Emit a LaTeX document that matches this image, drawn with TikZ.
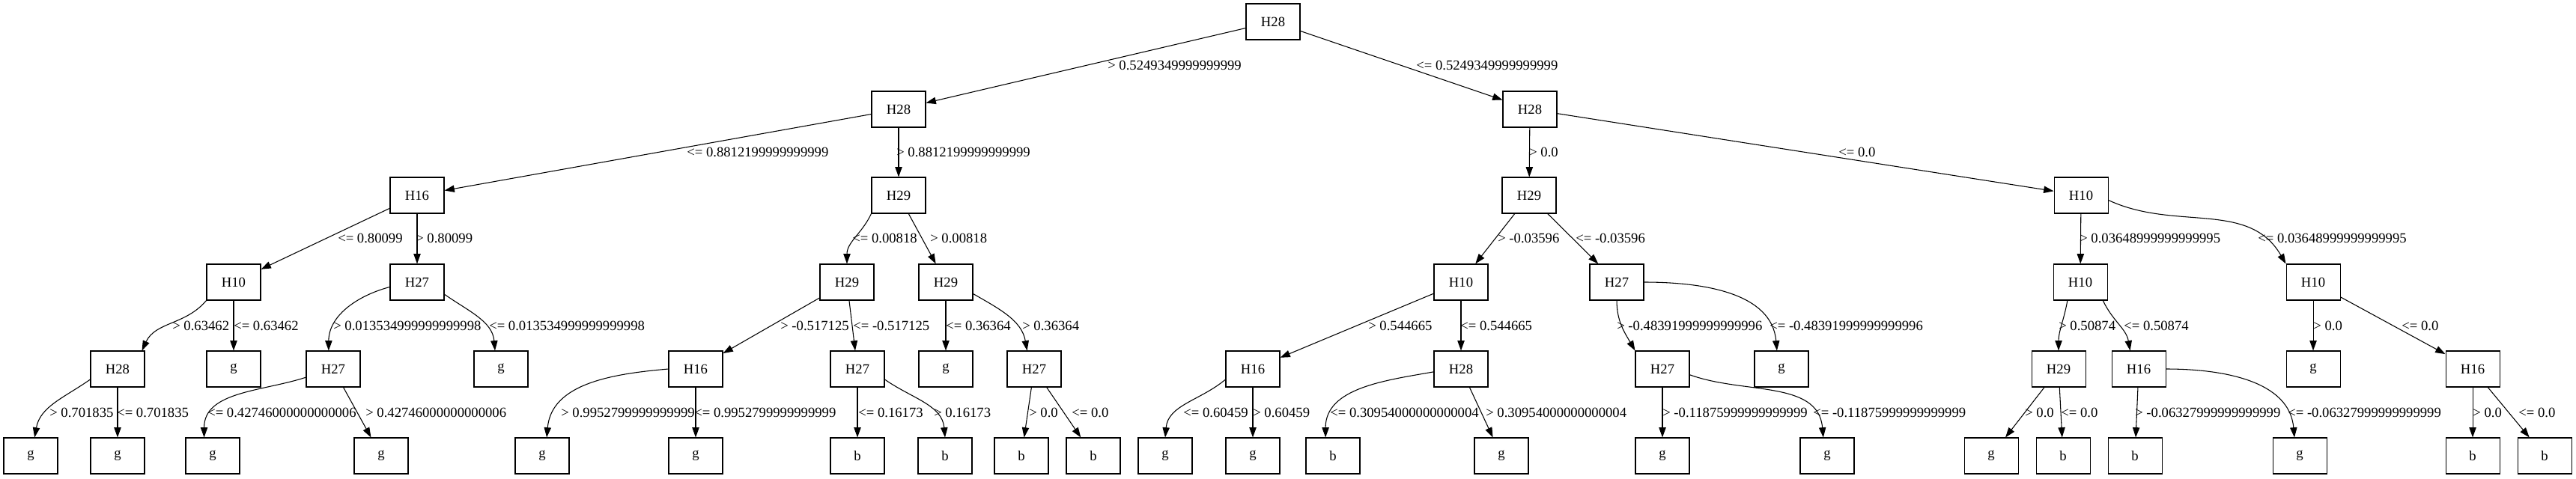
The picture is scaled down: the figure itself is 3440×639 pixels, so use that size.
\documentclass[tikz,border=0pt]{standalone}
\usepackage{fontspec}
\setmainfont{Liberation Serif}
\usetikzlibrary{arrows.meta}

\begin{document}
\begin{tikzpicture}[x=0.75pt, y=0.75pt, font=\fontsize{14}{16}\selectfont,
  test/.style={draw, line width=0.8pt, minimum width=54pt, minimum height=36pt, inner sep=0pt},
  cls/.style={test},
  edge/.style={line width=0.8pt, -{Triangle[length=10pt,width=7pt]}},
  cond/.style={anchor=west, inner sep=0pt}
]
  \useasboundingbox (0,0) rectangle (3440,-639);

  \node[test] (a)   at (1700,-29)  {H28};

  \node[test] (b1)  at (1200,-146) {H28};
  \node[test] (b2)  at (2043,-146) {H28};

  \node[test] (c1)  at (557,-261)  {H16};
  \node[test] (c2)  at (1200,-261) {H29};
  \node[test] (c3)  at (2042,-261) {H29};
  \node[test] (c4)  at (2779,-261) {H10};

  \node[test] (d1)  at (312,-377)  {H10};
  \node[test] (d2)  at (557,-377)  {H27};
  \node[test] (d3)  at (1131,-377) {H29};
  \node[test] (d4)  at (1263,-377) {H29};
  \node[test] (d5)  at (1951,-377) {H10};
  \node[test] (d6)  at (2159,-377) {H27};
  \node[test] (d7)  at (2778,-377) {H10};
  \node[test] (d8)  at (3089,-377) {H10};

  \node[test] (e1)  at (157,-493)  {H28};
  \node[cls]  (e2)  at (312,-493)  {g};
  \node[test] (e3)  at (445,-493)  {H27};
  \node[cls]  (e4)  at (669,-493)  {g};
  \node[test] (e5)  at (929,-493)  {H16};
  \node[test] (e6)  at (1145,-493) {H27};
  \node[cls]  (e7)  at (1263,-493) {g};
  \node[test] (e8)  at (1381,-493) {H27};
  \node[test] (e9)  at (1673,-493) {H16};
  \node[test] (e10) at (1951,-493) {H28};
  \node[test] (e11) at (2220,-493) {H27};
  \node[cls]  (e12) at (2379,-493) {g};
  \node[test] (e13) at (2749,-493) {H29};
  \node[test] (e14) at (2856,-493) {H16};
  \node[cls]  (e15) at (3089,-493) {g};
  \node[test] (e16) at (3302,-493) {H16};

  \node[cls] (f1)  at (41,-609)   {g};
  \node[cls] (f2)  at (157,-609)  {g};
  \node[cls] (f3)  at (284,-609)  {g};
  \node[cls] (f4)  at (509,-609)  {g};
  \node[cls] (f5)  at (724,-609)  {g};
  \node[cls] (f6)  at (929,-609)  {g};
  \node[cls] (f7)  at (1145,-609) {b};
  \node[cls] (f8)  at (1262,-609) {b};
  \node[cls] (f9)  at (1364,-609) {b};
  \node[cls] (f10) at (1460,-609) {b};
  \node[cls] (f11) at (1556,-609) {g};
  \node[cls] (f12) at (1673,-609) {g};
  \node[cls] (f13) at (1780,-609) {b};
  \node[cls] (f14) at (2005,-609) {g};
  \node[cls] (f15) at (2220,-609) {g};
  \node[cls] (f16) at (2440,-609) {g};
  \node[cls] (f17) at (2659,-609) {g};
  \node[cls] (f18) at (2755,-609) {b};
  \node[cls] (f19) at (2851,-609) {b};
  \node[cls] (f20) at (3071,-609) {g};
  \node[cls] (f21) at (3302,-609) {b};
  \node[cls] (f22) at (3398,-609) {b};

  \draw[edge] (a) -- (b1);
  \draw[edge] (a) -- (b2);
  \node[cond] (lb1) at (1479,-87) {> 0.5249349999999999};
  \node[cond] (lb2) at (1891,-87) {<= 0.5249349999999999};

  \draw[edge] (b1) -- (c1);
  \draw[edge] (b1) -- (c2);
  \draw[edge] (b2) -- (c3);
  \draw[edge] (b2) -- (c4);
  \node[cond] (lc1) at (917,-203)  {<= 0.8812199999999999};
  \node[cond] (lc2) at (1197,-203) {> 0.8812199999999999};
  \node[cond] (lc3) at (2042,-203) {> 0.0};
  \node[cond] (lc4) at (2455,-203) {<= 0.0};

  \draw[edge] (c1) -- (d1);
  \draw[edge] (c1) -- (d2);
  \draw[edge] (c2.south west) to[out=245,in=90] (d3.north);
  \draw[edge] (c2) -- (d4);
  \draw[edge] (c3) -- (d5);
  \draw[edge] (c3) -- (d6);
  \draw[edge] (c4) -- (d7);
  \draw[edge] (c4.-10) to[out=-25,in=120] (d8.north west);
  \node[cond] (ld1) at (451,-318)  {<= 0.80099};
  \node[cond] (ld2) at (555,-318)  {> 0.80099};
  \node[cond] (ld3) at (1138,-318) {<= 0.00818};
  \node[cond] (ld4) at (1242,-318) {> 0.00818};
  \node[cond] (ld5) at (2000,-318) {> -0.03596};
  \node[cond] (ld6) at (2104,-318) {<= -0.03596};
  \node[cond] (ld7) at (2777,-318) {> 0.03648999999999995};
  \node[cond] (ld8) at (3015,-318) {<= 0.03648999999999995};

  \draw[edge] (d1.south west) to[out=230,in=65] (e1.37);
  \draw[edge] (d1) -- (e2);
  \draw[edge] (d2.190) to[out=195,in=90] (e3.104);
  \draw[edge] (d2.-24) to[out=-35,in=95] (e4.108);
  \draw[edge] (d3) -- (e5);
  \draw[edge] (d3) -- (e6);
  \draw[edge] (d4) -- (e7);
  \draw[edge] (d4.-23) to[out=-30,in=100] (e8.111);
  \draw[edge] (d5) -- (e9);
  \draw[edge] (d5) -- (e10);
  \draw[edge] (d6.south) to[out=-90,in=120] (e11.north west);
  \draw[edge] (d6.east) to[out=0,in=95] (e12.104);
  \draw[edge] (d7.235) to[out=260,in=90] (e13.north);
  \draw[edge] (d7.-39) to[out=-65,in=100] (e14.115);
  \draw[edge] (d8) -- (e15);
  \draw[edge] (d8) -- (e16);
  \node[cond] (le1)  at (230,-435)  {> 0.63462};
  \node[cond] (le2)  at (312,-435)  {<= 0.63462};
  \node[cond] (le3)  at (445,-435)  {> 0.013534999999999998};
  \node[cond] (le4)  at (653,-435)  {<= 0.013534999999999998};
  \node[cond] (le5)  at (1042,-435) {> -0.517125};
  \node[cond] (le6)  at (1139,-435) {<= -0.517125};
  \node[cond] (le7)  at (1263,-435) {<= 0.36364};
  \node[cond] (le8)  at (1365,-435) {> 0.36364};
  \node[cond] (le9)  at (1827,-435) {> 0.544665};
  \node[cond] (le10) at (1950,-435) {<= 0.544665};
  \node[cond] (le11) at (2159,-435) {> -0.48391999999999996};
  \node[cond] (le12) at (2363,-435) {<= -0.48391999999999996};
  \node[cond] (le13) at (2749,-435) {> 0.50874};
  \node[cond] (le14) at (2836,-435) {<= 0.50874};
  \node[cond] (le15) at (3089,-435) {> 0.0};
  \node[cond] (le16) at (3207,-435) {<= 0.0};

  \draw[edge] (e1.201) to[out=215,in=80] (f1.78);
  \draw[edge] (e1) -- (f2);
  \draw[edge] (e3.197) to[out=198,in=90] (f3.115);
  \draw[edge] (e3) -- (f4);
  \draw[edge] (e5.west) to[out=185,in=85] (f5.76);
  \draw[edge] (e5) -- (f6);
  \draw[edge] (e6) -- (f7);
  \draw[edge] (e6.-21) to[out=-35,in=95] (f8.north);
  \draw[edge] (e8) -- (f9);
  \draw[edge] (e8) -- (f10);
  \draw[edge] (e9.201) to[out=220,in=85] (f11.north);
  \draw[edge] (e9) -- (f12);
  \draw[edge] (e10.186) to[out=190,in=90] (f13.112);
  \draw[edge] (e10) -- (f14);
  \draw[edge] (e11) -- (f15);
  \draw[edge] (e11.-12) to[out=-20,in=95] (f16.102);
  \draw[edge] (e13) -- (f17);
  \draw[edge] (e13) -- (f18);
  \draw[edge] (e14) -- (f19);
  \draw[edge] (e14.east) to[out=0,in=95] (f20.106);
  \draw[edge] (e16) -- (f21);
  \draw[edge] (e16) -- (f22);
  \node[cond] (lf1)  at (66,-551)   {> 0.701835};
  \node[cond] (lf2)  at (156,-551)  {<= 0.701835};
  \node[cond] (lf3)  at (277,-551)  {<= 0.42746000000000006};
  \node[cond] (lf4)  at (488,-551)  {> 0.42746000000000006};
  \node[cond] (lf5)  at (749,-551)  {> 0.9952799999999999};
  \node[cond] (lf6)  at (927,-551)  {<= 0.9952799999999999};
  \node[cond] (lf7)  at (1146,-551) {<= 0.16173};
  \node[cond] (lf8)  at (1247,-551) {> 0.16173};
  \node[cond] (lf9)  at (1374,-551) {> 0.0};
  \node[cond] (lf10) at (1431,-551) {<= 0.0};
  \node[cond] (lf11) at (1580,-551) {<= 0.60459};
  \node[cond] (lf12) at (1673,-551) {> 0.60459};
  \node[cond] (lf13) at (1776,-551) {<= 0.30954000000000004};
  \node[cond] (lf14) at (1984,-551) {> 0.30954000000000004};
  \node[cond] (lf15) at (2220,-551) {> -0.11875999999999999};
  \node[cond] (lf16) at (2421,-551) {<= -0.11875999999999999};
  \node[cond] (lf17) at (2704,-551) {> 0.0};
  \node[cond] (lf18) at (2752,-551) {<= 0.0};
  \node[cond] (lf19) at (2851,-551) {> -0.06327999999999999};
  \node[cond] (lf20) at (3055,-551) {<= -0.06327999999999999};
  \node[cond] (lf21) at (3302,-551) {> 0.0};
  \node[cond] (lf22) at (3363,-551) {<= 0.0};
\end{tikzpicture}
\end{document}
